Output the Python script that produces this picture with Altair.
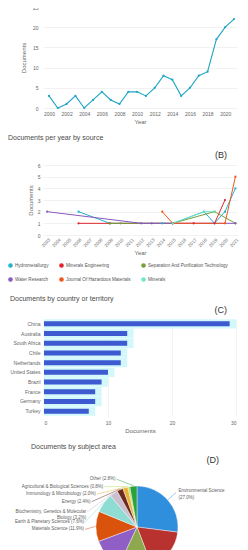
import altair as alt
import numpy as np
import pandas as pd

FONT = "Liberation Sans"
TXT = "#666666"
TITLE_C = "#4a4a4a"
GRID = "#ececec"

# ---------------- data ----------------
panel_titles = ["Documents by year", "Documents per year by source",
                "Documents by country or territory", "Documents by subject area"]
panel_tags = ["(A)", "(B)", "(C)", "(D)"]

# (A)
years_a = list(range(2000, 2022))
docs_a = [3, 0, 1, 3, 0, 2, 4, 2, 1, 4, 4, 3, 5, 8, 7, 3, 5, 8, 9, 17, 20, 22]
ticks_year_a = list(range(2000, 2021, 2))
ticks_docs_a = [0, 5, 10, 15, 20, 25]
line_color_a = "#1ea6c4"

# (B)
sources = ["Hydrometallurgy", "Minerals Engineering", "Separation And Purification Technology",
           "Water Research", "Journal Of Hazardous Materials", "Minerals"]
source_colors = ["#22b2cf", "#e0262e", "#76a03c", "#8b57c1", "#f0571c", "#72e6c8"]
hydro_years = [2006, 2009, 2014, 2015, 2018, 2019, 2020, 2021]
hydro_docs = [2, 1, 1, 1, 2, 1, 2, 4]
mineng_years = [2006, 2009, 2015, 2017, 2019, 2020]
mineng_docs = [1, 1, 1, 1, 1, 3]
sep_years = [2009, 2010, 2015, 2019, 2021]
sep_docs = [1, 1, 1, 2, 1]
water_years = [2003, 2012, 2013, 2021]
water_docs = [2, 1, 1, 1]
jhm_years = [2014, 2015, 2020, 2021]
jhm_docs = [2, 1, 1, 5]
minerals_years = [2015, 2018, 2019]
minerals_docs = [1, 2, 2]
ticks_year_b = list(range(2003, 2022))
ticks_docs_b = list(range(0, 7))

# (C)
countries = ["China", "Australia", "South Africa", "Chile", "Netherlands",
             "United States", "Brazil", "France", "Germany", "Turkey"]
country_docs = [29, 13, 13, 12, 12, 10, 9, 8, 8, 7]
ticks_docs_c = [0, 5, 10, 15, 20, 25, 30]
bar_color_c = "#3d5ad0"
glow_color_c = "#d3f8fc"

# (D)
subjects = ["Environmental Science", "Engineering", "Chemistry", "Chemical Engineering",
            "Materials Science", "Earth & Planetary Sciences",
            "Biochemistry, Genetics & Molecular Biology", "Energy",
            "Immunology & Microbiology", "Agricultural & Biological Sciences", "Other"]
subject_pct = [27.0, 17.2, 12.8, 12.3, 11.9, 7.6, 3.2, 2.4, 2.0, 0.8, 2.8]
subject_text = ["Environmental Science\n", "Engineering ", "Chemistry ", "Chemical Engineering\n",
                "Materials Science ", "Earth & Planetary Sciences ",
                "Biochemistry, Genetics & Molecular\nBiology ", "Energy ",
                "Immunology & Microbiology ", "Agricultural & Biological Sciences ", "Other "]
subject_colors = ["#2f8fdc", "#b8322f", "#8ea84e", "#8f5fc6", "#d9530c", "#8fdcd3",
                  "#c9bfcf", "#6e2a1c", "#e8b23a", "#b9df5e", "#2ba23b"]


def tag(text, x, y):
    return alt.Chart(pd.DataFrame({"t": [text]})).mark_text(
        align="right", baseline="middle", fontSize=9, font=FONT, color="#333333"
    ).encode(text="t:N", x=alt.value(x), y=alt.value(y))


# common left edge of all plot areas (aligned layout)
X0 = 35

# ---------------- panel A ----------------
WA, HA = 237 - 8 - X0, 101
dfa = pd.DataFrame({"Year": years_a, "Documents": docs_a})
line_a = alt.Chart(dfa).mark_line(
    color=line_color_a, strokeWidth=1.1,
    point=alt.OverlayMarkDef(filled=True, size=5, color=line_color_a)
).encode(
    x=alt.X("Year:Q", title="Year",
            scale=alt.Scale(domain=[1999.32, 2021.34], nice=False, zero=False),
            axis=alt.Axis(values=ticks_year_a, format="d", grid=False, labelPadding=3,
                          titlePadding=2, labelOverlap=False)),
    y=alt.Y("Documents:Q", title="Documents", scale=alt.Scale(domain=[0, 25], nice=False),
            axis=alt.Axis(values=ticks_docs_a, grid=True, labelPadding=5, titlePadding=6)),
)
panel_a = alt.layer(line_a, tag(panel_tags[0], WA - 6, -9)).properties(
    width=WA, height=HA, title=alt.Title(panel_titles[0], anchor="start", offset=3, dx=13)
)

# ---------------- panel B ----------------
WB, HB = 237 - 8 - X0, 70
rows = []
for name, yrs, vals in zip(
        sources,
        [hydro_years, mineng_years, sep_years, water_years, jhm_years, minerals_years],
        [hydro_docs, mineng_docs, sep_docs, water_docs, jhm_docs, minerals_docs]):
    for yv, dv in zip(yrs, vals):
        rows.append({"Source": name, "Year": yv, "Documents": dv})
dfb = pd.DataFrame(rows)
line_b = alt.Chart(dfb).mark_line(
    strokeWidth=1.0, point=alt.OverlayMarkDef(filled=True, size=5)
).encode(
    x=alt.X("Year:Q", title="Year",
            scale=alt.Scale(domain=[2002.6, 2021.15], nice=False, zero=False),
            axis=alt.Axis(values=ticks_year_b, format="d", grid=False, labelAngle=-45,
                          labelFontSize=4.5, labelPadding=2, titlePadding=2, labelOverlap=False)),
    y=alt.Y("Documents:Q", title="Documents", scale=alt.Scale(domain=[0, 6], nice=False),
            axis=alt.Axis(values=ticks_docs_b, grid=True, labelPadding=3, titlePadding=4)),
    color=alt.Color("Source:N", scale=alt.Scale(domain=sources, range=source_colors),
                    legend=alt.Legend(title=None, orient="none", legendX=-35, legendY=HB + 28,
                                      direction="horizontal", columns=3, gridAlign="none",
                                      labelFontSize=4.6, labelColor="#555555", labelFont=FONT,
                                      symbolType="circle", symbolSize=10, columnPadding=7,
                                      rowPadding=3, labelLimit=300, labelOffset=2)),
    detail="Source:N",
)
panel_b = alt.layer(line_b, tag(panel_tags[1], WB - 10, -10)).properties(
    width=WB, height=HB, title=alt.Title(panel_titles[1], anchor="start", offset=10)
)

# ---------------- panel C ----------------
WC, HC = 237 - 8 - X0, 97
dfc = pd.DataFrame({"Country": countries, "Documents": country_docs})
yc = alt.Y("Country:N", sort=countries, title=None,
           scale=alt.Scale(paddingInner=0, paddingOuter=0),
           axis=alt.Axis(labelPadding=3, labelFontSize=5))
xc_scale = alt.Scale(domain=[-0.15, 30.15], nice=False, zero=False)
glow = alt.Chart(dfc).transform_calculate(glow="datum.Documents + 1").mark_bar(
    size=9.4, color=glow_color_c
).encode(x=alt.X("glow:Q", scale=xc_scale, title="Documents",
                 axis=alt.Axis(values=ticks_docs_c, grid=True, labelPadding=4, titlePadding=2,
                               labelOverlap=False)),
         x2=alt.datum(0),
         y=yc)
bars = alt.Chart(dfc).mark_bar(size=5, color=bar_color_c).encode(
    x=alt.X("Documents:Q", scale=xc_scale), x2=alt.datum(0), y=yc)
panel_c = alt.layer(glow, bars, tag(panel_tags[2], WC - 10, -9)).properties(
    width=WC, height=HC, title=alt.Title(panel_titles[2], anchor="start", offset=4)
)

# ---------------- panel D ----------------
WD, HD = 240 - 8 - X0, 112
CX, CY = 137 - 8 - X0, 59          # pie centre inside the view
R = 41
pct = np.array(subject_pct)
start = np.concatenate([[0.0], np.cumsum(pct)[:-1]])
mid = (start + pct / 2) / pct.sum() * 2 * np.pi
sx, cy = np.sin(mid), -np.cos(mid)
labels = [t + f"({p:.1f}%)" for t, p in zip(subject_text, subject_pct)]
nl = [l.count("\n") + 1 for l in labels]
n = len(subjects)
side, lx, ly, kx, ky = [""] * n, np.zeros(n), np.zeros(n), np.zeros(n), np.zeros(n)
left = []
for i in range(n):
    deg = np.degrees(mid[i])
    if deg < 150:
        side[i] = "right"
        lx[i], ly[i] = 54 * sx[i] + 1, 54 * cy[i]
        kx[i], ky[i] = 52 * sx[i], 52 * cy[i]
    elif deg <= 210:
        side[i] = "bottom"
        lx[i], ly[i] = (R + 8) * sx[i], (R + 8) * cy[i]
        kx[i], ky[i] = (R + 5) * sx[i], (R + 5) * cy[i]
    else:
        side[i] = "left"
        left.append(i)
prev_c, prev_h = None, None
for i in sorted(left, key=lambda k: 48 * cy[k]):
    h = 5.2 * nl[i]
    yv = 48 * cy[i]
    if prev_c is not None:
        yv = max(yv, prev_c + (prev_h + h) / 2 + 2.3)
    ly[i] = yv
    lx[i] = -np.sqrt(max(52 ** 2 - yv ** 2, 0)) - 1
    kx[i], ky[i] = lx[i] + 1, yv
    prev_c, prev_h = yv, h

dfd = pd.DataFrame({"Subject": subjects, "Pct": subject_pct, "o": list(range(n))})
dfl = pd.DataFrame({
    "Subject": subjects, "label": labels, "side": side,
    "lx": lx, "ly": ly, "ex": (R + 0.5) * sx, "ey": (R + 0.5) * cy, "kx": kx, "ky": ky,
})
xs = alt.Scale(domain=[-CX, WD - CX], nice=False, zero=False)
ys = alt.Scale(domain=[-CY, HD - CY], nice=False, zero=False, reverse=True)
col_d = alt.Color("Subject:N", scale=alt.Scale(domain=subjects, range=subject_colors), legend=None)

pie = alt.Chart(dfd).mark_arc(outerRadius=R, stroke="white", strokeWidth=0.4).encode(
    theta=alt.Theta("Pct:Q", stack=True),
    order=alt.Order("o:Q"),
    color=col_d,
    x=alt.X(datum=0, type="quantitative", scale=xs, axis=None),
    y=alt.Y(datum=0, type="quantitative", scale=ys, axis=None),
)
leaders = alt.Chart(dfl).mark_rule(strokeWidth=0.5).encode(
    x=alt.X("ex:Q", scale=xs, axis=None), y=alt.Y("ey:Q", scale=ys, axis=None),
    x2="kx:Q", y2="ky:Q", color=col_d,
)


def label_layer(which, align):
    return alt.Chart(dfl).transform_filter(alt.datum.side == which).mark_text(
        align=align, baseline="middle", fontSize=4.5, font=FONT, color="#606060", lineBreak="\n"
    ).encode(x=alt.X("lx:Q", scale=xs, axis=None), y=alt.Y("ly:Q", scale=ys, axis=None),
             text="label:N")


panel_d = alt.layer(
    pie, leaders, label_layer("right", "left"), label_layer("left", "right"),
    label_layer("bottom", "center"), tag(panel_tags[3], 219 - 8 - X0, -8)
).properties(width=WD, height=HD,
             title=alt.Title(panel_titles[3], anchor="start", offset=6, dx=16))

chart = alt.vconcat(panel_a, panel_b, panel_c, panel_d, spacing=10).resolve_scale(
    color="independent", x="independent", y="independent"
).resolve_legend(color="independent").properties(
    padding={"top": -24, "left": 0, "right": 0, "bottom": 0}, background="white"
).configure_view(stroke=None).configure_axis(
    labelFont=FONT, titleFont=FONT, labelFontSize=5, titleFontSize=6, labelColor=TXT,
    titleColor=TXT, titleFontWeight="normal", ticks=False, domain=False, gridColor=GRID,
    gridWidth=0.7,
).configure_title(font=FONT, fontSize=7, fontWeight="normal", color=TITLE_C)

chart.save("out.html", embed_options={"renderer": "svg", "actions": False})
